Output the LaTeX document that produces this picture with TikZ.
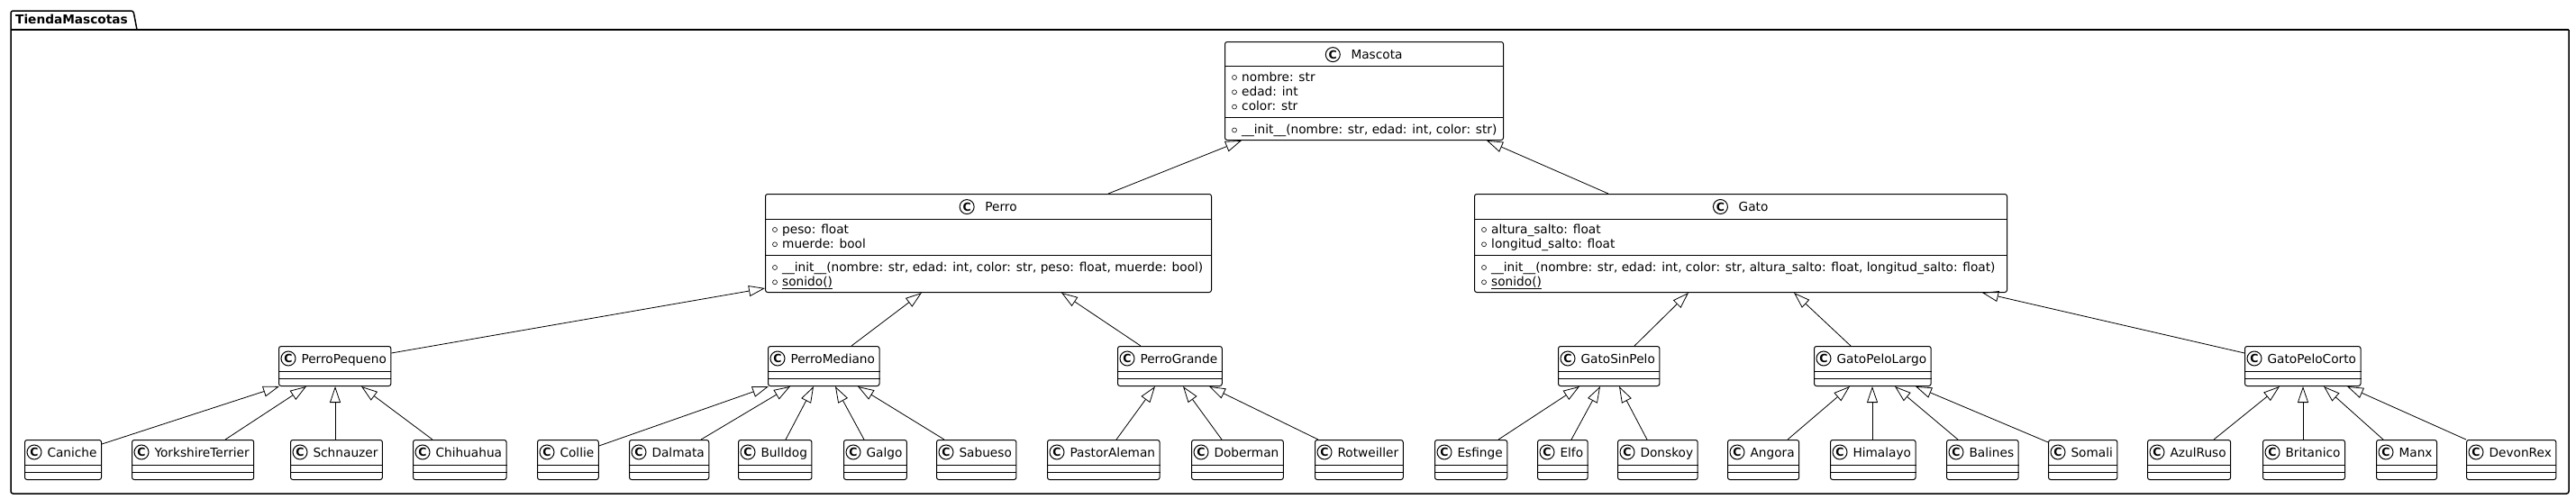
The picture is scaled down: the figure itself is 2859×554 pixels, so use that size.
\documentclass[tikz,border=0pt]{standalone}
\usepackage{fontspec}
\setmainfont{DejaVu Sans}
\usepackage{tikz}
\usetikzlibrary{positioning, arrows.meta, calc}

\tikzstyle{clase}=[%
      rectangle, draw=black, line width=1pt, rounded corners=2.5pt, fill=white,
      anchor=north west, inner sep=0pt
]
\tikzstyle{hoja}=[%
      clase, text height=19pt, text depth=25pt
]
\tikzstyle{icono}=[%
      circle, draw=black, line width=1pt, fill=white, minimum size=16pt, inner sep=0pt,
      font=\fontsize{12.5}{12.5}\selectfont\bfseries
]
\tikzstyle{nombre}=[inner sep=0pt, anchor=base]
\tikzstyle{miembro}=[inner sep=0pt, anchor=base west]
\tikzstyle{hereda}=[%
      draw=black, line width=0.8pt, -{Triangle[open, length=18pt, width=12pt]}
]

% clase sin atributos: nombre, x, y
\newcommand{\hoja}[3]{%
  \node[hoja] (#1) at (#2,#3) {\kern25pt #1\kern5pt};
  \node[icono] (#1-c) at ([xshift=11pt,yshift=-14pt]#1.north west) {C};
  \draw[line width=1pt] ([yshift=-28pt]#1.north west) -- ([yshift=-28pt]#1.north east)
        ([yshift=-36.5pt]#1.north west) -- ([yshift=-36.5pt]#1.north east);
}
% atributo o metodo publico: clase, sufijo, linea base, texto
\newcommand{\miembro}[4]{%
  \draw[line width=0.6pt] ([xshift=11pt,yshift=-#3pt+4pt]#1.north west) circle (2.5pt);
  \node[miembro] (#1-#2) at ([xshift=19pt,yshift=-#3pt]#1.north west) {#4};
}
% herencia: hija, desplazamiento, padre, desplazamiento
\newcommand{\herencia}[4]{%
  \draw[hereda] ([xshift=#2pt]#1.north west) -- ([xshift=#4pt]#3.south west);
}

\begin{document}
\begin{tikzpicture}[x=1pt, y=-1pt, font=\fontsize{13.7}{16.3}\selectfont]
    \useasboundingbox (0,0) rectangle (2859,554);

    % paquete
    \draw[line width=1.5pt, rounded corners=2.5pt]
        (152,33) -- (148,12) -- (12,12) -- (12,548) -- (2851,548) -- (2851,33);
    \draw[line width=1.5pt] (12,33) -- (2851,33);
    \node[miembro, font=\fontsize{13.7}{16.3}\selectfont\bfseries] (TiendaMascotas) at (17,27) {TiendaMascotas};

    % Mascota
    \node[clase, minimum width=309pt, minimum height=109pt] (Mascota) at (1359,46) {};
    \node[nombre] (Mascota-n) at ([xshift=14pt,yshift=-19.5pt]Mascota.north) {Mascota};
    \node[icono] (Mascota-c) at ([xshift=-20pt]Mascota-n.west) {C};
    \draw[line width=1pt] ([yshift=-27pt]Mascota.north west) -- ([yshift=-27pt]Mascota.north east)
        ([yshift=-84.5pt]Mascota.north west) -- ([yshift=-84.5pt]Mascota.north east);
    \miembro{Mascota}{nombre}{44}{nombre: str}
    \miembro{Mascota}{edad}{60.3}{edad: int}
    \miembro{Mascota}{color}{76.6}{color: str}
    \miembro{Mascota}{init}{102.5}{\_\_init\_\_(nombre: str, edad: int, color: str)}

    % Perro
    \node[clase, minimum width=495pt, minimum height=109pt] (Perro) at (849,215) {};
    \node[nombre] (Perro-n) at ([xshift=14pt,yshift=-19.5pt]Perro.north) {Perro};
    \node[icono] (Perro-c) at ([xshift=-20pt]Perro-n.west) {C};
    \draw[line width=1pt] ([yshift=-28pt]Perro.north west) -- ([yshift=-28pt]Perro.north east)
        ([yshift=-68.5pt]Perro.north west) -- ([yshift=-68.5pt]Perro.north east);
    \miembro{Perro}{peso}{44}{peso: float}
    \miembro{Perro}{muerde}{60.3}{muerde: bool}
    \miembro{Perro}{init}{86}{\_\_init\_\_(nombre: str, edad: int, color: str, peso: float, muerde: bool)}
    \miembro{Perro}{sonido}{102.3}{\underline{sonido()}}

    % Gato
    \node[clase, minimum width=591pt, minimum height=109pt] (Gato) at (1636,215) {};
    \node[nombre] (Gato-n) at ([xshift=14pt,yshift=-19.5pt]Gato.north) {Gato};
    \node[icono] (Gato-c) at ([xshift=-20pt]Gato-n.west) {C};
    \draw[line width=1pt] ([yshift=-28pt]Gato.north west) -- ([yshift=-28pt]Gato.north east)
        ([yshift=-68.5pt]Gato.north west) -- ([yshift=-68.5pt]Gato.north east);
    \miembro{Gato}{altura}{44}{altura\_salto: float}
    \miembro{Gato}{longitud}{60.3}{longitud\_salto: float}
    \miembro{Gato}{init}{86}{\_\_init\_\_(nombre: str, edad: int, color: str, altura\_salto: float, longitud\_salto: float)}
    \miembro{Gato}{sonido}{102.3}{\underline{sonido()}}

    % segundo nivel
    \hoja{PerroPequeno}{309}{384}
    \hoja{PerroMediano}{852}{384}
    \hoja{PerroGrande}{1240}{384}
    \hoja{GatoSinPelo}{1729}{384}
    \hoja{GatoPeloLargo}{2013}{384}
    \hoja{GatoPeloCorto}{2491}{384}

    % razas
    \hoja{Caniche}{27}{488}
    \hoja{YorkshireTerrier}{146}{488}
    \hoja{Schnauzer}{322}{488}
    \hoja{Chihuahua}{458}{488}
    \hoja{Collie}{596}{488}
    \hoja{Dalmata}{698}{488}
    \hoja{Bulldog}{819}{488}
    \hoja{Galgo}{936}{488}
    \hoja{Sabueso}{1039}{488}
    \hoja{PastorAleman}{1162}{488}
    \hoja{Doberman}{1322}{488}
    \hoja{Rotweiller}{1459}{488}
    \hoja{Esfinge}{1592}{488}
    \hoja{Elfo}{1706}{488}
    \hoja{Donskoy}{1795}{488}
    \hoja{Angora}{1917}{488}
    \hoja{Himalayo}{2031}{488}
    \hoja{Balines}{2160}{488}
    \hoja{Somali}{2273}{488}
    \hoja{AzulRuso}{2383}{488}
    \hoja{Britanico}{2511}{488}
    \hoja{Manx}{2637}{488}
    \hoja{DevonRex}{2737}{488}

    % herencias
    \herencia{Perro}{381}{Mascota}{19}
    \herencia{Gato}{149}{Mascota}{291}

    \draw[hereda] ([yshift=-8pt]PerroPequeno.north east) -- ([yshift=5pt]Perro.south west);
    \herencia{PerroMediano}{93}{Perro}{174}
    \herencia{PerroGrande}{26}{Perro}{329}
    \herencia{GatoSinPelo}{85}{Gato}{238}
    \herencia{GatoPeloLargo}{41}{Gato}{355}
    \draw[hereda] ([yshift=-8pt]GatoPeloCorto.north west) -- ([xshift=564pt]Gato.south west);

    \draw[hereda] ([yshift=-5pt]Caniche.north east) -- ([xshift=1pt]PerroPequeno.south west);
    \herencia{YorkshireTerrier}{104}{PerroPequeno}{31}
    \herencia{Schnauzer}{50}{PerroPequeno}{63}
    \herencia{Chihuahua}{22}{PerroPequeno}{92}

    \draw[hereda] ([yshift=-7pt]Collie.north east) -- ([xshift=1pt]PerroMediano.south west);
    \herencia{Dalmata}{80}{PerroMediano}{25}
    \herencia{Bulldog}{53}{PerroMediano}{51}
    \herencia{Galgo}{23}{PerroMediano}{75}
    \herencia{Sabueso}{9}{PerroMediano}{100}

    \herencia{PastorAleman}{77}{PerroGrande}{42}
    \herencia{Doberman}{34}{PerroGrande}{73}
    \herencia{Rotweiller}{4}{PerroGrande}{102}

    \herencia{Esfinge}{71}{GatoSinPelo}{24}
    \herencia{Elfo}{38}{GatoSinPelo}{47}
    \herencia{Donskoy}{33}{GatoSinPelo}{68}

    \herencia{Angora}{67}{GatoPeloLargo}{40}
    \herencia{Himalayo}{47}{GatoPeloLargo}{65}
    \herencia{Balines}{13}{GatoPeloLargo}{90}
    \draw[hereda] ([yshift=-3pt]Somali.north west) -- ([xshift=113pt]GatoPeloLargo.south west);

    \herencia{AzulRuso}{74}{GatoPeloCorto}{39}
    \herencia{Britanico}{45}{GatoPeloCorto}{65}
    \herencia{Manx}{8}{GatoPeloCorto}{88}
    \herencia{DevonRex}{0}{GatoPeloCorto}{114}

\end{tikzpicture}
\end{document}
